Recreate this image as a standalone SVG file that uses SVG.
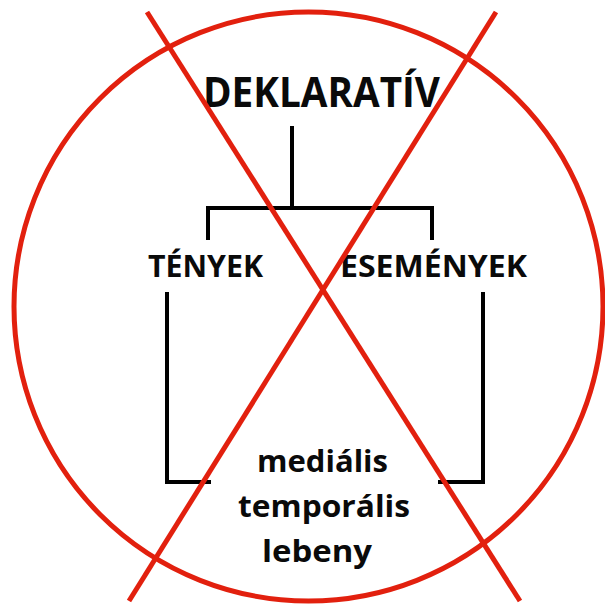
<svg xmlns="http://www.w3.org/2000/svg" width="605" height="604" viewBox="0 0 605 604">
<style>
.t{font-family:"Open Sans","Liberation Sans",sans-serif;font-weight:700;fill:#0a0a0a}
.c{fill:none;stroke:#000;stroke-width:4;stroke-linecap:square}
.x{fill:none;stroke:#E2200E;stroke-width:5}
</style>
<rect width="605" height="604" fill="#fff"/>
<g id="connectors">
<path class="c" d="M292 128 V208 M208 238 V208 H432 V238"/>
<path class="c" d="M167 294 V482 H209"/>
<path class="c" d="M483 294 V482 H440"/>
</g>
<g id="deklarativ"><text class="t" x="203" y="107" font-size="41" textLength="237" lengthAdjust="spacingAndGlyphs">DEKLARATÍV</text></g>
<g id="tenyek"><text class="t" x="148" y="277" font-size="30" textLength="115" lengthAdjust="spacingAndGlyphs">TÉNYEK</text></g>
<g id="esemenyek"><text class="t" x="340" y="277" font-size="30" textLength="187" lengthAdjust="spacingAndGlyphs">ESEMÉNYEK</text></g>
<g id="lebeny">
<text class="t" x="257" y="472" font-size="31" textLength="131" lengthAdjust="spacingAndGlyphs">mediális</text>
<text class="t" x="238" y="517" font-size="31" textLength="172" lengthAdjust="spacingAndGlyphs">temporális</text>
<text class="t" x="262" y="562" font-size="31" textLength="110" lengthAdjust="spacingAndGlyphs">lebeny</text>
</g>
<g id="cross">
<circle class="x" cx="308.5" cy="306.5" r="294.5"/>
<line class="x" x1="147" y1="12" x2="520" y2="601"/>
<line class="x" x1="496" y1="12" x2="129" y2="601"/>
</g>
</svg>
